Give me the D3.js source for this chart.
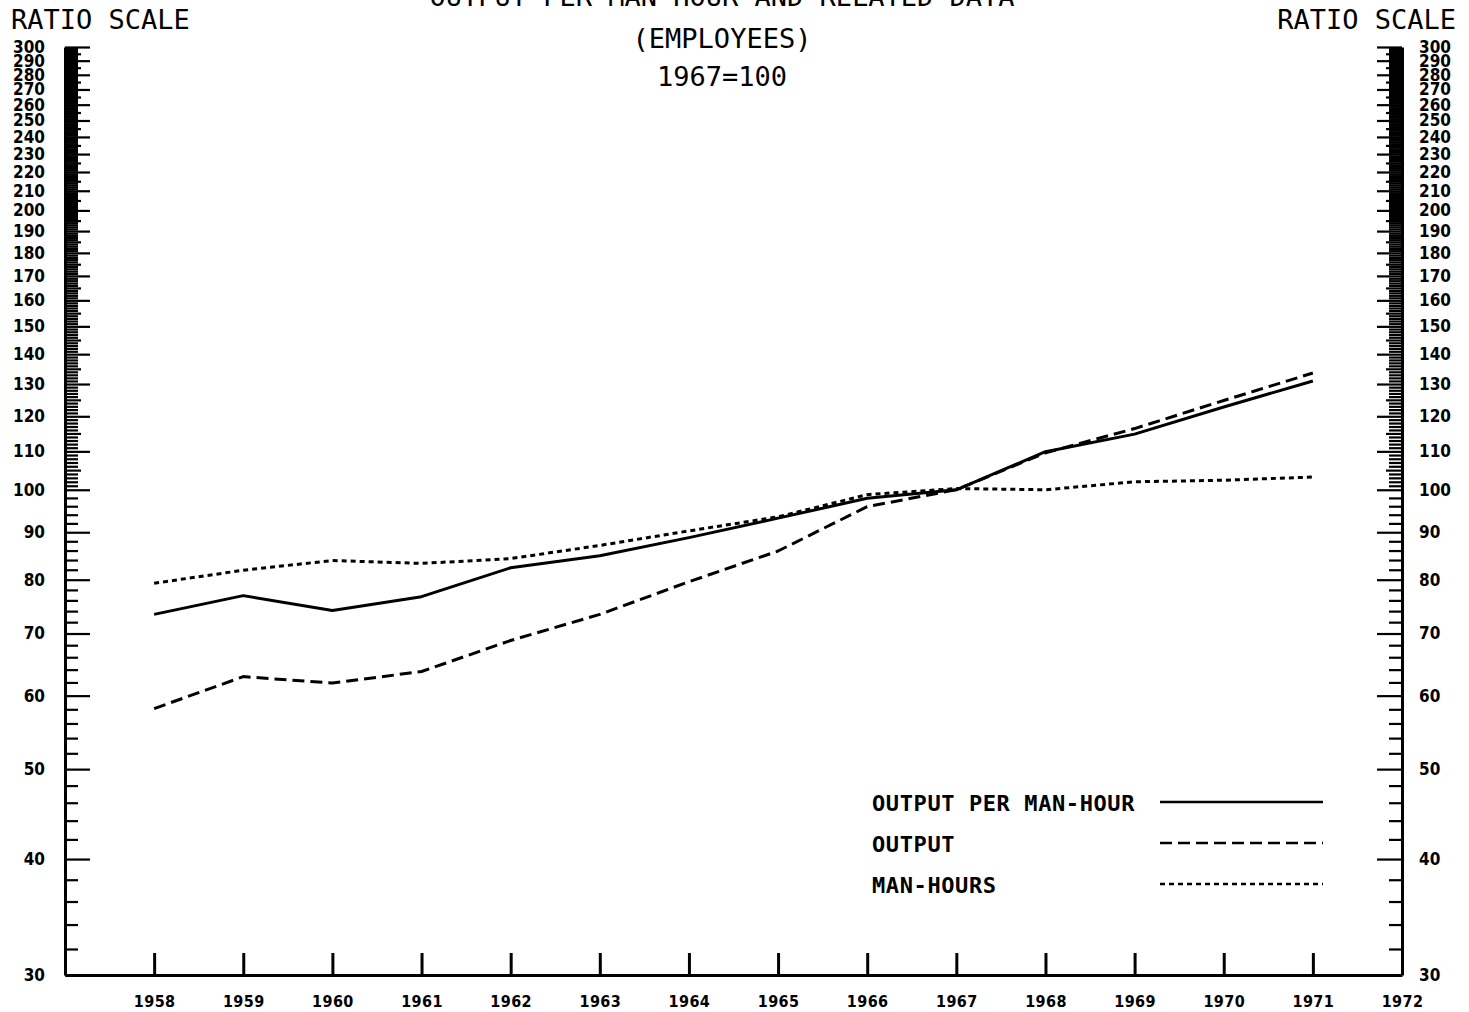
<!DOCTYPE html>
<html>
<head>
<meta charset="utf-8">
<script src="https://cdn.jsdelivr.net/npm/d3@7"></script>
<style>
  html, body { margin: 0; padding: 0; background: #fff; }
  svg { display: block; }
  .num { font-family: "DejaVu Sans Condensed", "DejaVu Sans", sans-serif; font-weight: bold; font-stretch: condensed; }
  .mono { font-family: "DejaVu Sans Mono", monospace; }
</style>
</head>
<body>
<svg id="chart" width="1469" height="1012"></svg>
<script>
// ---- data ----
const years = [1958, 1959, 1960, 1961, 1962, 1963, 1964, 1965, 1966, 1967, 1968, 1969, 1970, 1971];
const outputPerManHour = [73.4, 76.9, 74.1, 76.7, 82.4, 84.9, 88.8, 93.2, 97.9, 100, 109.9, 114.8, 122.8, 131.0];
const output = [58.1, 62.9, 61.9, 63.7, 68.8, 73.4, 79.6, 85.9, 95.9, 100, 109.6, 116.4, 124.8, 133.6];
const manHours = [79.3, 81.9, 83.9, 83.3, 84.3, 87.1, 90.3, 93.5, 98.8, 100.3, 100.0, 102.0, 102.4, 103.2];
const yearLabels = [1958, 1959, 1960, 1961, 1962, 1963, 1964, 1965, 1966, 1967, 1968, 1969, 1970, 1971, 1972];
const yTickLabels = [30, 40, 50, 60, 70, 80, 90, 100, 110, 120, 130, 140, 150, 160, 170, 180, 190, 200, 210, 220, 230, 240, 250, 260, 270, 280, 290, 300];
const titleLines = ["OUTPUT PER MAN-HOUR AND RELATED DATA", "(EMPLOYEES)", "1967=100"];
const seriesNames = ["OUTPUT PER MAN-HOUR", "OUTPUT", "MAN-HOURS"];

// minor tick values (built from tick label range)
const minorTicks = [];
for (let v = 30; v < 100; v += 2) if (v % 10 !== 0) minorTicks.push(v);
for (let v = 100; v < 300; v += 1) if (v % 10 !== 0 && v % 5 !== 0) minorTicks.push(v);
const midTicks = [];
for (let v = 105; v < 300; v += 10) midTicks.push(v);

const svg = d3.select("#chart");
const x = d3.scaleLinear().domain([1957, 1972]).range([65, 1402]);
const y = d3.scaleLog().domain([30, 300]).range([975, 47]);

const ink = "#000";

// ---- left axis ----
const gL = svg.append("g").attr("transform", `translate(${x(1957)},0)`);
gL.call(d3.axisLeft(y).tickValues(yTickLabels).tickFormat(d3.format("d"))
  .tickSizeInner(-25).tickSizeOuter(0).tickPadding(20));
gL.append("g").call(d3.axisLeft(y).tickValues(minorTicks).tickFormat("").tickSizeInner(-13).tickSizeOuter(0))
  .select(".domain").remove();
gL.append("g").call(d3.axisLeft(y).tickValues(midTicks).tickFormat("").tickSizeInner(-16).tickSizeOuter(0))
  .select(".domain").remove();

// ---- right axis ----
const gR = svg.append("g").attr("transform", `translate(${x(1972)},0)`);
gR.call(d3.axisRight(y).tickValues(yTickLabels).tickFormat(d3.format("d"))
  .tickSizeInner(-25).tickSizeOuter(0).tickPadding(17));
gR.append("g").call(d3.axisRight(y).tickValues(minorTicks).tickFormat("").tickSizeInner(-13).tickSizeOuter(0))
  .select(".domain").remove();
gR.append("g").call(d3.axisRight(y).tickValues(midTicks).tickFormat("").tickSizeInner(-16).tickSizeOuter(0))
  .select(".domain").remove();

[gL, gR].forEach(g => {
  g.selectAll(".domain").attr("stroke", ink).attr("stroke-width", 3);
  g.selectAll(".tick line").attr("stroke", ink).attr("stroke-width", 2.2);
  g.selectAll(".tick text").attr("class", "num").attr("font-size", 17).attr("fill", ink);
});

// ---- bottom axis ----
const gB = svg.append("g").attr("transform", `translate(0,${y(30)})`);
gB.call(d3.axisBottom(x).tickValues(yearLabels).tickFormat(d3.format("d"))
  .tickSizeInner(-22).tickSizeOuter(0).tickPadding(21));
gB.selectAll(".domain").attr("stroke", ink).attr("stroke-width", 3);
gB.selectAll(".tick line").attr("stroke", ink).attr("stroke-width", 3)
  .filter(d => !years.includes(d)).remove();
gB.selectAll(".tick text").attr("class", "num").attr("font-size", 16).attr("letter-spacing", 0.4).attr("fill", ink);

// ---- series ----
const series = [
  { name: seriesNames[0], values: outputPerManHour, dash: null },
  { name: seriesNames[1], values: output, dash: "12,6" },
  { name: seriesNames[2], values: manHours, dash: "5,4" }
];
const line = d3.line().x((d, i) => x(years[i])).y(d => y(d));
series.forEach(s => {
  svg.append("path").datum(s.values)
    .attr("d", line)
    .attr("fill", "none")
    .attr("stroke", ink)
    .attr("stroke-width", 3)
    .attr("stroke-linejoin", "round")
    .attr("stroke-dasharray", s.dash);
});

// ---- legend ----
const legendY = [802, 843, 884];
series.forEach((s, i) => {
  svg.append("text").attr("class", "mono").attr("x", 872).attr("y", legendY[i] + 9)
    .attr("font-size", 22).attr("font-weight", "bold").attr("letter-spacing", 0.6)
    .attr("fill", ink).text(s.name);
  svg.append("line").attr("x1", 1160).attr("x2", 1323).attr("y1", legendY[i]).attr("y2", legendY[i])
    .attr("stroke", ink).attr("stroke-width", 2.5).attr("stroke-dasharray", s.dash);
});

// ---- titles ----
const titleY = [6, 48, 86];
titleLines.forEach((t, i) => {
  svg.append("text").attr("class", "mono").attr("x", 722).attr("y", titleY[i])
    .attr("text-anchor", "middle").attr("font-size", 27).attr("fill", ink).text(t);
});
svg.append("text").attr("class", "mono").attr("x", 11).attr("y", 29)
  .attr("font-size", 27).attr("fill", ink).text("RATIO SCALE");
svg.append("text").attr("class", "mono").attr("x", 1456).attr("y", 29)
  .attr("text-anchor", "end").attr("font-size", 27).attr("fill", ink).text("RATIO SCALE");
</script>
</body>
</html>
